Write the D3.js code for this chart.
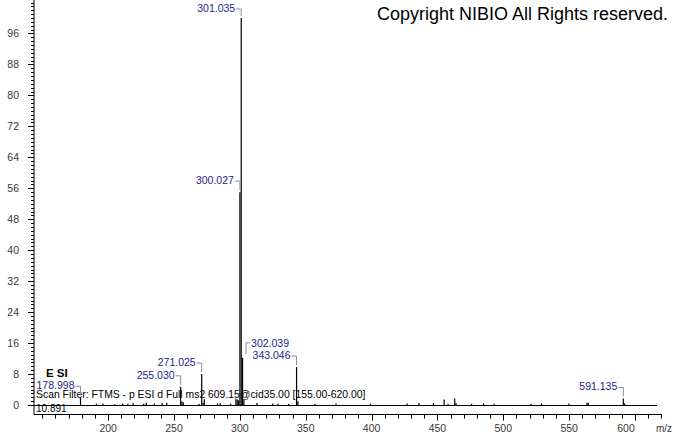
<!DOCTYPE html>
<html>
<head>
<meta charset="utf-8">
<script src="https://cdn.jsdelivr.net/npm/d3@7"></script>
<style>
  body { margin: 0; background: #fff; }
  svg { display: block; font-family: "Liberation Sans", Arial, sans-serif; }
  .peak { stroke: #000; stroke-width: 1.2; }
  .plabel { fill: #25258a; font-size: 10.5px; }
  .bracket { fill: none; stroke: #8a8aae; stroke-width: 1; }
  .axis text { fill: #383838; font-size: 10.5px; }
</style>
</head>
<body>
<svg id="chart" width="674" height="434"></svg>
<script>
// peaks: m/z and relative abundance (%)
var mz = [178.998, 191, 196, 205, 211, 215, 219, 227, 229, 235, 241, 244.5,
          255.030, 256.03, 257.0, 269, 271.025, 272.03, 273.0, 283, 285, 293,
          297.0, 298.0, 299.0, 300.027, 301.035, 302.039, 303.04, 313, 325, 329, 337,
          343.046, 344.05, 357, 373, 399, 427, 436, 447, 455.1, 458, 463.1, 464.1,
          476, 485, 493, 521, 529, 549.8, 563.5, 564.5, 591.135, 592.1];
var intensity = [2.0, 0.3, 0.4, 0.2, 0.4, 0.3, 0.5, 0.3, 0.6, 0.4, 0.5, 0.6,
                 4.7, 0.9, 0.7, 0.3, 8.0, 0.6, 1.5, 0.4, 0.5, 0.3,
                 1.6, 1.4, 1.2, 55, 100, 12.2, 1.3, 0.5, 0.4, 0.3, 0.3,
                 9.8, 1.0, 0.3, 0.4, 0.3, 0.4, 0.5, 0.5, 1.4, 0.3, 1.7, 0.5,
                 0.3, 0.4, 0.3, 0.3, 0.4, 0.4, 0.6, 0.6, 1.7, 0.4];
var labelled = [178.998, 255.030, 271.025, 300.027, 301.035, 302.039, 343.046, 591.135];

var xDomain = [143.7, 620.5];
var dataEnd = 616.7;
var xMajor = [200, 250, 300, 350, 400, 450, 500, 550, 600];
var yMajor = [0, 8, 16, 24, 32, 40, 48, 56, 64, 72, 80, 88, 96];

var rtText = "10.891";
var filterText = "Scan Filter: FTMS - p ESI d Full ms2 609.15@cid35.00 [155.00-620.00]";
var ionText = "E SI";
var copyText = "Copyright NIBIO All Rights reserved.";

var svg = d3.select("#chart");

var x = d3.scaleLinear().domain(xDomain).range([34, 662]);
var y = d3.scaleLinear().domain([0, 100]).range([405, 18]);

var axisY = 414.5;

// y axis
var gy = svg.append("g").attr("class", "axis").attr("transform", "translate(34,0)");
gy.append("line").attr("x1", 0).attr("x2", 0).attr("y1", 0).attr("y2", axisY).attr("stroke", "#000");
gy.selectAll(".ymin").data(d3.range(0, 105, 1)).enter().append("line")
	.attr("x1", 0).attr("x2", -3)
	.attr("y1", function(d){ return Math.round(y(d)) + 0.5 })
	.attr("y2", function(d){ return Math.round(y(d)) + 0.5 })
	.attr("stroke", "#000");
gy.selectAll(".ymaj").data(yMajor).enter().append("line")
	.attr("x1", 0).attr("x2", -6)
	.attr("y1", function(d){ return Math.round(y(d)) + 0.5 })
	.attr("y2", function(d){ return Math.round(y(d)) + 0.5 })
	.attr("stroke", "#000");
gy.selectAll(".ylab").data(yMajor).enter().append("text")
	.attr("x", -15).attr("y", function(d){ return y(d) })
	.attr("dy", "0.36em").attr("text-anchor", "end")
	.text(function(d){ return d });

// x axis
var gx = svg.append("g").attr("class", "axis");
gx.append("line").attr("x1", 34).attr("x2", 662).attr("y1", axisY).attr("y2", axisY).attr("stroke", "#000");
gx.selectAll(".xmin").data(d3.range(150, 621, 10)).enter().append("line")
	.attr("x1", function(d){ return Math.round(x(d)) + 0.5 })
	.attr("x2", function(d){ return Math.round(x(d)) + 0.5 })
	.attr("y1", axisY).attr("y2", axisY + 4)
	.attr("stroke", "#000");
gx.selectAll(".xmaj").data(xMajor).enter().append("line")
	.attr("x1", function(d){ return Math.round(x(d)) + 0.5 })
	.attr("x2", function(d){ return Math.round(x(d)) + 0.5 })
	.attr("y1", axisY).attr("y2", axisY + 6)
	.attr("stroke", "#000");
var mzLabelX = 656;
gx.selectAll(".xlab").data(xMajor).enter().append("text")
	// keep the last label clear of the "m/z" unit
	.attr("x", function(d){ return Math.min(x(d), mzLabelX - 30) }).attr("y", 428)
	.attr("dy", "0.36em").attr("text-anchor", "middle")
	.text(function(d){ return d });
gx.append("text").attr("x", mzLabelX).attr("y", 428).attr("dy", "0.36em")
	.style("font-size", "10px").text("m/z");

// baseline
svg.append("line")
	.attr("x1", x(xDomain[0])).attr("x2", x(dataEnd))
	.attr("y1", y(0) + 0.5).attr("y2", y(0) + 0.5)
	.attr("stroke", "#000");

// peaks
var peaks = mz.map(function(m, i){ return {mz: m, v: intensity[i]} });
svg.selectAll(".peak").data(peaks).enter().append("line")
	.attr("class", "peak")
	.attr("x1", function(d){ return x(d.mz) }).attr("x2", function(d){ return x(d.mz) })
	.attr("y1", y(0)).attr("y2", function(d){ return y(d.v) });

// text annotations
svg.append("text").attr("x", 36).attr("y", 398).style("font-size", "10.4px").text(filterText);
svg.append("text").attr("x", 36).attr("y", 412).style("font-size", "10px").text(rtText);
svg.append("text").attr("x", 46).attr("y", 377).style("font-size", "11.5px")
	.style("font-weight", "bold").text(ionText);
svg.append("text").attr("x", 377).attr("y", 20).style("font-size", "18px").text(copyText);

// peak labels
var lab = peaks.filter(function(d){ return labelled.indexOf(d.mz) >= 0 });
lab.forEach(function(d) {
	var px = x(d.mz), top = y(d.v), ty = top - 11;
	// put label on the right if a taller peak sits just to the left
	var right = peaks.some(function(o){ return o.mz < d.mz && d.mz - o.mz < 3 && o.v > d.v });
	if (d.v > 90) ty = top - 9;
	if (right) {
		ty = top - 15;
		var bx = px + 3.5;
		svg.append("path").attr("class", "bracket")
			.attr("d", "M" + (bx + 4) + "," + ty + "H" + bx + "V" + (top - 4));
		svg.append("text").attr("class", "plabel")
			.attr("x", bx + 5).attr("y", ty).attr("dy", "0.36em")
			.text(d.mz.toFixed(3));
	} else {
		svg.append("path").attr("class", "bracket")
			.attr("d", "M" + (px - 5) + "," + ty + "H" + px + "V" + (top - 2));
		svg.append("text").attr("class", "plabel")
			.attr("x", px - 6).attr("y", ty - 1).attr("dy", "0.36em")
			.attr("text-anchor", "end")
			.text(d.mz.toFixed(3));
	}
});
</script>
</body>
</html>
